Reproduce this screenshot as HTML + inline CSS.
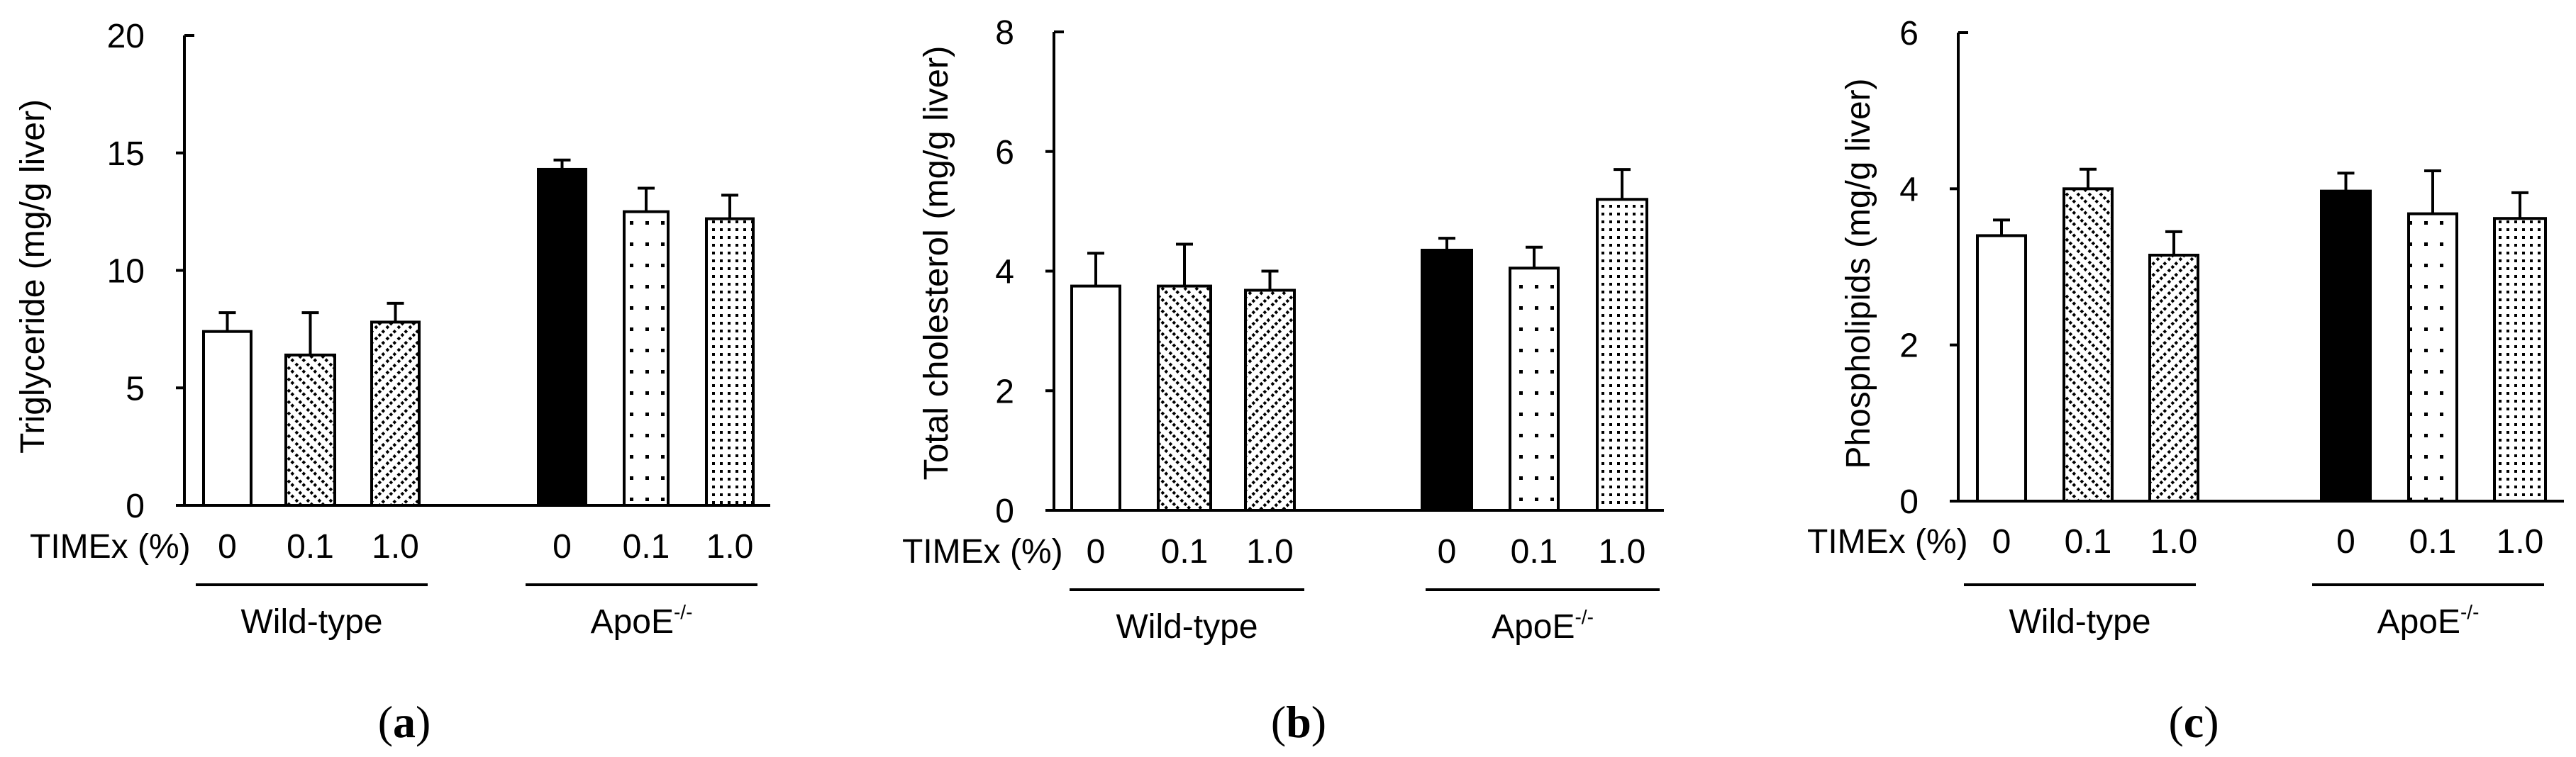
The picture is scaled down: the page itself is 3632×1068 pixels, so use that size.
<!DOCTYPE html>
<html><head><meta charset="utf-8"><style>
html,body{margin:0;padding:0;background:#fff}
svg{display:block}
text{font-family:"Liberation Sans",sans-serif;fill:#000}
</style></head><body>
<svg id="fig" width="3632" height="1068" viewBox="0 0 3632 1068" xmlns="http://www.w3.org/2000/svg">
<defs>
<pattern id="hatchBack" width="16" height="16" patternUnits="userSpaceOnUse"><rect width="16" height="16" fill="#fff"/><path d="M-4,-4 L20,20 M-4,12 L4,20 M12,-4 L20,4" stroke="#000" stroke-width="4" stroke-dasharray="4,3"/></pattern>
<pattern id="hatchFwd" width="16" height="16" patternUnits="userSpaceOnUse"><rect width="16" height="16" fill="#fff"/><path d="M-4,20 L20,-4 M-4,4 L4,-4 M12,20 L20,12" stroke="#000" stroke-width="4" stroke-dasharray="4,3"/></pattern>
<pattern id="dotsSparse" width="22" height="30" patternUnits="userSpaceOnUse"><rect width="22" height="30" fill="#fff"/><rect x="8" y="12" width="5" height="5" fill="#000"/></pattern>
<pattern id="dotsDense" width="11" height="11" patternUnits="userSpaceOnUse"><rect width="11" height="11" fill="#fff"/><rect x="3" y="3" width="4" height="4" fill="#000"/></pattern>
</defs>
<g id="root"></g>
</svg>
<script>
const categories = ["0","0.1","1.0","0","0.1","1.0"];
const groups = ["Wild-type","ApoE"];
const triglycerideValues = [7.4, 6.4, 7.8, 14.3, 12.5, 12.2];
const triglycerideErrors = [0.8, 1.8, 0.8, 0.4, 1.0, 1.0];
const triglycerideTicks = [0, 5, 10, 15, 20];
const cholesterolValues = [3.75, 3.75, 3.68, 4.35, 4.05, 5.2];
const cholesterolErrors = [0.55, 0.7, 0.32, 0.2, 0.35, 0.5];
const cholesterolTicks = [0, 2, 4, 6, 8];
const phospholipidValues = [3.4, 4.0, 3.15, 3.97, 3.68, 3.62];
const phospholipidErrors = [0.2, 0.25, 0.3, 0.23, 0.55, 0.33];
const phospholipidTicks = [0, 2, 4, 6];
const yTitles = ["Triglyceride (mg/g liver)","Total cholesterol (mg/g liver)","Phospholipids (mg/g liver)"];
const captions = ["a","b","c"];

const fills = ["#fff","url(#hatchBack)","url(#hatchFwd)","#000","url(#dotsSparse)","url(#dotsDense)"];
const NS = "http://www.w3.org/2000/svg";
const root = document.getElementById("root");
function mk(tag, attrs, parent, txt){
  const e = document.createElementNS(NS, tag);
  for (const k in attrs) e.setAttribute(k, attrs[k]);
  if (txt !== undefined) e.textContent = txt;
  (parent||root).appendChild(e);
  return e;
}
const panels = [
  {vals:triglycerideValues, errs:triglycerideErrors, ticks:triglycerideTicks, axisX:260, axisEnd:1086, top:50, zero:713,
   bars:[[287,354],[403,472],[524,591],[759,826],[880,942],[996,1062]], timexX:42, timexY:787, lineY:825,
   lines:[[276,603],[741,1068]], grpY:893, titleX:46, titleY:390, titleLen:500, capX:570},
  {vals:cholesterolValues, errs:cholesterolErrors, ticks:cholesterolTicks, axisX:1486, axisEnd:2346, top:45, zero:720,
   bars:[[1511,1579],[1633,1707],[1756,1825],[2005,2075],[2129,2197],[2252,2322]], timexX:1272, timexY:794, lineY:832,
   lines:[[1508,1839],[2010,2340]], grpY:900, titleX:1320, titleY:371, titleLen:613, capX:1831},
  {vals:phospholipidValues, errs:phospholipidErrors, ticks:phospholipidTicks, axisX:2761, axisEnd:3615, top:46, zero:707,
   bars:[[2788,2856],[2910,2978],[3031,3099],[3273,3342],[3396,3464],[3517,3589]], timexX:2548, timexY:780, lineY:825,
   lines:[[2769,3096],[3260,3587]], grpY:893, titleX:2620, titleY:386, titleLen:551, capX:3093}
];
panels.forEach((p, pi) => {
  const g = mk("g", {});
  
  
  const maxV = p.ticks[p.ticks.length-1];
  const y = v => p.zero - (v / maxV) * (p.zero - p.top);
  p.vals.forEach((v, i) => {
    const [x0, x1] = p.bars[i];
    const r = mk("rect", {x:x0, y:y(v), width:x1-x0, height:p.zero-y(v), fill:fills[i], stroke:"#000", "stroke-width":4}, g);
    
    
    const cx = (x0 + x1) / 2, ye = y(v + p.errs[i]);
    const e = mk("path", {d:`M${cx},${y(v)} L${cx},${ye} M${cx-12},${ye} L${cx+12},${ye}`, stroke:"#000", "stroke-width":4, fill:"none"}, g);
    
    
    const t = mk("text", {x:cx, y:p.timexY, "font-size":48, "text-anchor":"middle"}, g, categories[i]);
    
    
  });
  const ax = mk("path", {d:`M${p.axisX},${p.top} L${p.axisX},${p.zero} L${p.axisEnd},${p.zero}`, stroke:"#000", "stroke-width":4, fill:"none"}, g);
  
  
  p.ticks.forEach((tv, ti) => {
    const ty = y(tv);
    const last = ti === p.ticks.length-1;
    mk("line", {x1:p.axisX-(last?0:12), x2:p.axisX+(last?14:0), y1:ty, y2:ty, stroke:"#000", "stroke-width":4}, g);
    const tl = mk("text", {x:p.axisX-56, y:ty+17, "font-size":48, "text-anchor":"end"}, g, String(tv));
    
    
  });
  const yt = mk("text", {x:0, y:0, "font-size":48, "text-anchor":"middle", textLength:p.titleLen, lengthAdjust:"spacingAndGlyphs",
    transform:`translate(${p.titleX + 16},${p.titleY}) rotate(-90)`}, g, yTitles[pi]);
  
  
  const tx = mk("text", {x:p.timexX, y:p.timexY, "font-size":48}, g, "TIMEx (%)");
  
  
  p.lines.forEach((l, li) => {
    mk("line", {x1:l[0], x2:l[1], y1:p.lineY, y2:p.lineY, stroke:"#000", "stroke-width":4}, g);
    const gx = (l[0] + l[1]) / 2;
    const gt = mk("text", {x:gx, y:p.grpY, "font-size":48, "text-anchor":"middle"}, g, groups[li]);
    
    
    if (li === 1) { mk("tspan", {"font-size":28, dy:-20}, gt, "-/-"); }
  });
  const cap = mk("text", {x:p.capX, y:1040, "font-size":64, "text-anchor":"middle", style:"font-family:'Liberation Serif',serif"}, g);
  
  
  mk("tspan", {}, cap, "(");
  mk("tspan", {"font-weight":"bold"}, cap, captions[pi]);
  mk("tspan", {}, cap, ")");
});
</script>
</body></html>
